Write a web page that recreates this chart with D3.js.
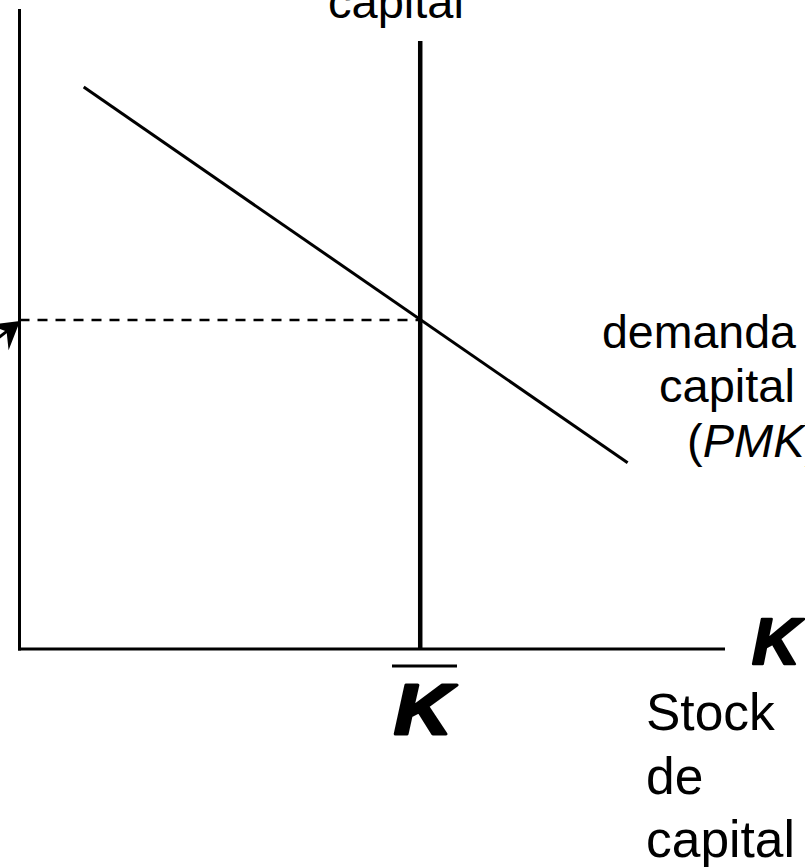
<!DOCTYPE html>
<html>
<head>
<meta charset="utf-8">
<script src="https://cdn.jsdelivr.net/npm/d3@7"></script>
<style>
  html, body { margin: 0; padding: 0; background: #fff; }
  svg { display: block; }
</style>
</head>
<body>
<div id="chart"></div>
<script>
// ── data (arbitrary units) ──
const X_MAX = 100, Y_MAX = 100;
const demand = [ { k: 9.1, r: 87.8 }, { k: 86.2, r: 29.1 } ];   // PMK line
const kBar = 56.8;          // fixed stock of capital
const supplyTop = 95;       // top of vertical supply line
const rStar = 51.4;         // equilibrium rental rate (dashed)

const topLabel   = ['capital'];
const demandLbl  = ['demanda de', 'capital'];
const stockLbl   = ['Stock', 'de', 'capital'];

const W = 805, H = 867;
const FONT = '"Liberation Sans", Arial, Helvetica, sans-serif';

const x = d3.scaleLinear().domain([0, X_MAX]).range([19.5, 725]);
const y = d3.scaleLinear().domain([0, Y_MAX]).range([649, 9]);

const svg = d3.select('#chart').append('svg')
  .attr('width', W).attr('height', H)
  .attr('viewBox', `0 0 ${W} ${H}`);

// axes
svg.append('line')
  .attr('x1', x(0)).attr('x2', x(0)).attr('y1', y(Y_MAX)).attr('y2', y(0) + 1.5)
  .attr('stroke', '#000').attr('stroke-width', 3);
svg.append('line')
  .attr('x1', x(0) - 1.5).attr('x2', x(X_MAX)).attr('y1', y(0)).attr('y2', y(0))
  .attr('stroke', '#000').attr('stroke-width', 3);

// dashed equilibrium level
svg.append('line')
  .attr('x1', x(0)).attr('x2', x(kBar)).attr('y1', y(rStar)).attr('y2', y(rStar))
  .attr('stroke', '#000').attr('stroke-width', 2.5)
  .attr('stroke-dasharray', '10,8');

// vertical supply of capital
svg.append('line')
  .attr('x1', x(kBar)).attr('x2', x(kBar)).attr('y1', y(supplyTop)).attr('y2', y(0))
  .attr('stroke', '#000').attr('stroke-width', 4.5);

// demand (PMK)
const line = d3.line().x(d => x(d.k)).y(d => y(d.r));
svg.append('path')
  .datum(demand)
  .attr('d', line)
  .attr('fill', 'none').attr('stroke', '#000').attr('stroke-width', 3);

// arrow pointing at the axis from the left
const arrow = svg.append('g')
  .attr('transform', `translate(${x(0) + 0.5},${y(rStar) + 1}) rotate(-38)`);
arrow.append('line')
  .attr('x1', -16).attr('x2', -90).attr('y1', 0).attr('y2', 0)
  .attr('stroke', '#000').attr('stroke-width', 3);
arrow.append('path')
  .attr('d', 'M0,0 L-27,-16 L-17,0 L-27,16 Z')
  .attr('fill', '#000');

// labels
const txt = (t, px, py, size, opts = {}) => svg.append('text')
  .attr('x', px).attr('y', py)
  .attr('font-family', FONT).attr('font-size', size)
  .attr('font-weight', opts.weight || 400)
  .attr('font-style', opts.style || 'normal')
  .attr('fill', '#000')
  .text(t);

txt(topLabel[0], 328, 17.5, 47);

txt(demandLbl[0], 602, 348, 46.5);
txt(demandLbl[1], 659, 402, 47);
const pmk = svg.append('text')
  .attr('x', 687).attr('y', 457)
  .attr('font-family', FONT).attr('font-size', 47).attr('fill', '#000');
pmk.append('tspan').text('(');
pmk.append('tspan').attr('font-style', 'italic').text('PMK');
pmk.append('tspan').text(')');

stockLbl.forEach((t, i) => txt(t, 646, 730 + i * 63.5, 51.5));

// K labels (heavy italic)
txt('K', 752, 664, 64, { weight: 700, style: 'italic' })
  .attr('stroke', '#000').attr('stroke-width', 2.5).attr('stroke-linejoin', 'round')
  .attr('textLength', 48).attr('lengthAdjust', 'spacingAndGlyphs');
txt('K', 394, 734, 70, { weight: 700, style: 'italic' })
  .attr('stroke', '#000').attr('stroke-width', 3).attr('stroke-linejoin', 'round')
  .attr('textLength', 58).attr('lengthAdjust', 'spacingAndGlyphs');
svg.append('line')
  .attr('x1', 392).attr('x2', 457).attr('y1', 666).attr('y2', 666)
  .attr('stroke', '#000').attr('stroke-width', 3);
</script>
</body>
</html>
